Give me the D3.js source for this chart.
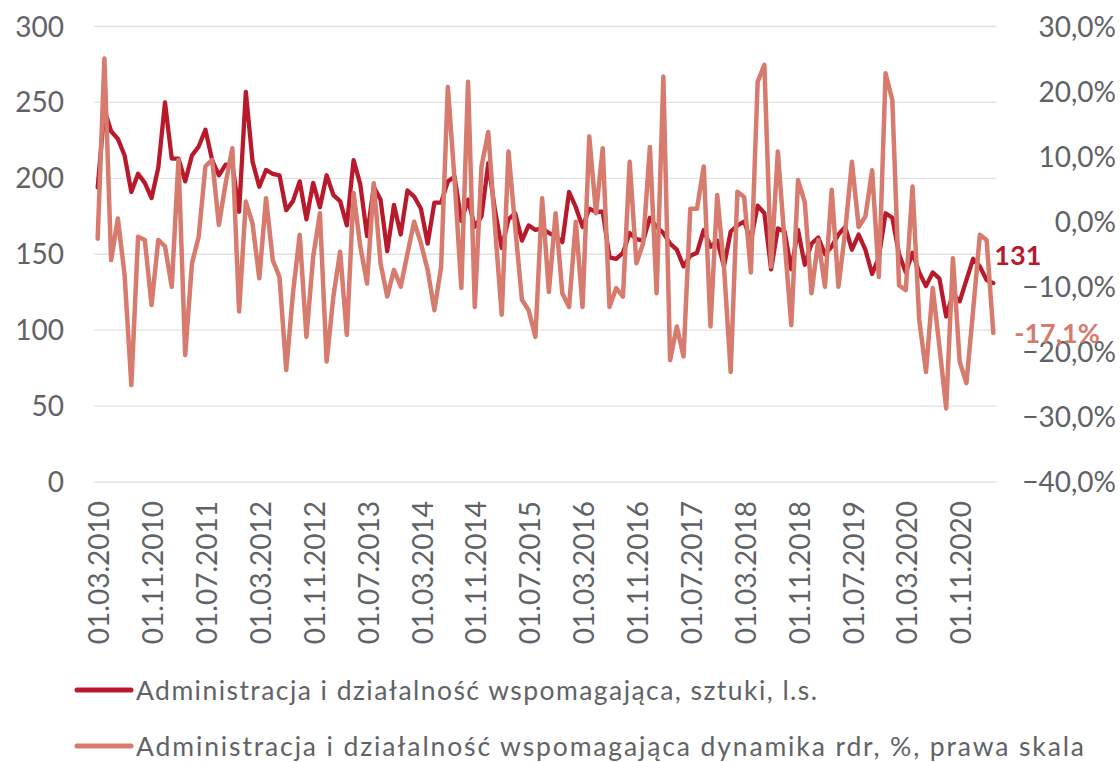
<!DOCTYPE html>
<html>
<head>
<meta charset="utf-8">
<script src="https://cdn.jsdelivr.net/npm/d3@7"></script>
<style>
  html, body { margin: 0; padding: 0; background: #ffffff; }
  svg { display: block; font-family: Lato, "Open Sans", sans-serif; }
</style>
</head>
<body>
<svg id="chart" width="1120" height="762"></svg>
<script>
// Monthly series, March 2010 – April 2021
const startMonth = new Date(2010, 2, 1);
const endMonth = new Date(2021, 4, 1);

// Administracja i działalność wspomagająca – number of units (left axis)
const unitsCount = [
  194, 245, 231, 226, 215, 191, 203, 197, 187, 207, 250, 213,
  213, 198, 215, 221, 232, 212, 202, 209, 209, 178, 257, 211,
  194.5, 205.5, 203, 202, 179, 185, 198, 173, 197, 181, 202, 189,
  185, 169, 212, 196, 162, 194.5, 186, 152, 182.5, 163, 192, 188,
  180, 157, 184, 184, 198, 201, 172, 186, 168, 175, 210, 179,
  154, 173, 177, 159, 169, 166, 167, 164, 162, 158, 191, 181,
  168, 180, 178, 178, 148, 147, 151, 164, 160, 159, 174, 168,
  164, 157, 153, 142, 149, 151, 166, 155, 159, 142, 165, 169,
  171.5, 159, 182, 177, 140, 167, 165, 140, 166, 143, 157, 161,
  150, 155, 163, 168, 153, 163, 153, 137, 148, 177, 174, 150,
  138, 151, 138, 129, 138, 134, 109, 124, 119, 133, 147, 142,
  133, 131
];

// Year-on-year dynamics, % (right axis)
const yoyChange = [
  -2.6, 25.1, -5.9, 0.5, -8.2, -25.1, -2.3, -2.8, -12.8, -2.8, -3.8, -10.0,
  9.5, -20.5, -6.4, -2.3, 8.5, 9.5, -0.5, 5.9, 11.3, -13.8, 3.1, -0.3,
  -8.7, 3.6, -5.9, -8.5, -22.8, -11.0, -2.0, -17.7, -5.4, 1.3, -21.5, -11.5,
  -4.6, -17.4, 4.4, -3.8, -9.5, 5.9, -6.4, -11.5, -7.4, -10.0, -4.9, 0.0,
  -3.3, -7.4, -13.6, -6.9, 20.7, 6.4, -10.2, 21.5, -13.1, 8.5, 13.8, -0.8,
  -14.3, 10.8, -0.8, -12.0, -13.6, -17.7, 3.6, -10.8, 1.3, -11.0, -13.1, 0.0,
  -13.1, 13.1, 1.3, 11.3, -13.1, -10.2, -11.5, 9.2, -6.4, -3.3, 11.5, -11.0,
  22.3, -21.3, -16.1, -20.7, 2.0, 2.0, 8.5, -16.1, 4.1, -6.9, -23.1, 4.6,
  3.8, -7.8, 21.5, 24.1, -6.9, 10.8, -3.0, -15.9, 6.4, 3.0, -11.0, -2.8,
  -10.0, 4.9, -10.0, -1.5, 9.2, -0.8, 0.8, 7.9, -8.5, 22.8, 18.7, -9.8,
  -10.5, 5.4, -15.1, -23.1, -10.2, -19.2, -28.7, -5.6, -21.5, -24.8, -13.6, -2.0,
  -2.8, -17.1
];

const leftTicks = [0, 50, 100, 150, 200, 250, 300];
const rightTicks = [-40, -30, -20, -10, 0, 10, 20, 30];
const xTickLabels = [
  "01.03.2010", "01.11.2010", "01.07.2011", "01.03.2012", "01.11.2012",
  "01.07.2013", "01.03.2014", "01.11.2014", "01.07.2015", "01.03.2016",
  "01.11.2016", "01.07.2017", "01.03.2018", "01.11.2018", "01.07.2019",
  "01.03.2020", "01.11.2020"
];
const seriesNames = [
  "Administracja i działalność wspomagająca, sztuki, l.s.",
  "Administracja i działalność wspomagająca dynamika rdr, %, prawa skala"
];
const lastUnitsLabel = "131";
const lastYoyLabel = "-17,1%";

const colors = { units: "#B81A2B", yoy: "#D67B6E", text: "#5F6367", grid: "#E2E2E2" };

const months = d3.timeMonth.range(startMonth, endMonth);
const fmtDate = d3.timeFormat("01.%m.%Y");
const pl = d3.formatLocale({ decimal: ",", thousands: " ", grouping: [3], currency: ["", " zł"] });
const fmtPct = v => pl.format(".1f")(v) + "%";

const svg = d3.select("#chart");
svg.append("rect").attr("width", 1120).attr("height", 762).attr("fill", "#fff");

const plot = { left: 94.3, right: 996.7, top: 26.5, bottom: 482 };

const keys = months.map(fmtDate);
const x = d3.scalePoint()
  .domain(keys)
  .range([plot.left, plot.right])
  .padding(0.5);
const yL = d3.scaleLinear().domain([0, 300]).range([plot.bottom, plot.top]);
const yR = d3.scaleLinear().domain([-40, 30]).range([plot.bottom, plot.top]);

// horizontal gridlines
svg.append("g").selectAll("line").data(leftTicks).join("line")
  .attr("x1", plot.left).attr("x2", plot.right)
  .attr("y1", d => yL(d)).attr("y2", d => yL(d))
  .attr("stroke", colors.grid).attr("stroke-width", 1.3);

// left axis labels
svg.append("g").selectAll("text").data(leftTicks).join("text")
  .attr("x", 64).attr("y", d => yL(d)).attr("dy", "0.36em")
  .attr("text-anchor", "end").attr("font-size", 28).attr("fill", colors.text)
  .text(d => d);

// right axis labels
svg.append("g").selectAll("text").data(rightTicks).join("text")
  .attr("x", 1116).attr("y", d => yR(d)).attr("dy", "0.36em")
  .attr("text-anchor", "end").attr("font-size", 28).attr("fill", colors.text)
  .text(d => fmtPct(d));

// rotated date labels
svg.append("g").selectAll("text").data(xTickLabels).join("text")
  .attr("transform", d => `translate(${x(d) + 1.5},501) rotate(-90)`)
  .attr("dy", "0.36em")
  .attr("text-anchor", "end").attr("font-size", 28).attr("fill", colors.text)
  .text(d => d);

const lineUnits = d3.line().x((d, i) => x(keys[i])).y(d => yL(d));
const lineYoy = d3.line().x((d, i) => x(keys[i])).y(d => yR(d));

svg.append("path").datum(unitsCount)
  .attr("d", lineUnits).attr("fill", "none")
  .attr("stroke", colors.units).attr("stroke-width", 4.3)
  .attr("stroke-linejoin", "round").attr("stroke-linecap", "round");

svg.append("path").datum(yoyChange)
  .attr("d", lineYoy).attr("fill", "none")
  .attr("stroke", colors.yoy).attr("stroke-width", 4.5)
  .attr("stroke-linejoin", "round").attr("stroke-linecap", "round");

// end-of-series value labels
const lastKey = keys[keys.length - 1];
svg.append("text")
  .attr("x", x(lastKey) + 1).attr("y", yL(unitsCount[unitsCount.length - 1]) - 28)
  .attr("dy", "0.36em").attr("font-size", 27).attr("font-weight", "bold")
  .attr("fill", colors.units).text(lastUnitsLabel);
svg.append("text")
  .attr("x", x(lastKey) + 21).attr("y", yR(yoyChange[yoyChange.length - 1]))
  .attr("dy", "0.36em").attr("font-size", 27).attr("font-weight", "bold")
  .attr("fill", colors.yoy).text(lastYoyLabel);

// legend
const legend = svg.append("g");
const legendRows = [
  { name: seriesNames[0], color: colors.units, y: 690, width: 681 },
  { name: seriesNames[1], color: colors.yoy, y: 746, width: 948 }
];
legend.selectAll("line").data(legendRows).join("line")
  .attr("x1", 77).attr("x2", 131).attr("y1", d => d.y).attr("y2", d => d.y)
  .attr("stroke", d => d.color).attr("stroke-width", 5).attr("stroke-linecap", "round");
legend.selectAll("text").data(legendRows).join("text")
  .attr("x", 136).attr("y", d => d.y).attr("dy", "0.36em")
  .attr("font-size", 26.5).attr("fill", colors.text)
  .attr("textLength", d => d.width).attr("lengthAdjust", "spacing")
  .text(d => d.name);
</script>
</body>
</html>
